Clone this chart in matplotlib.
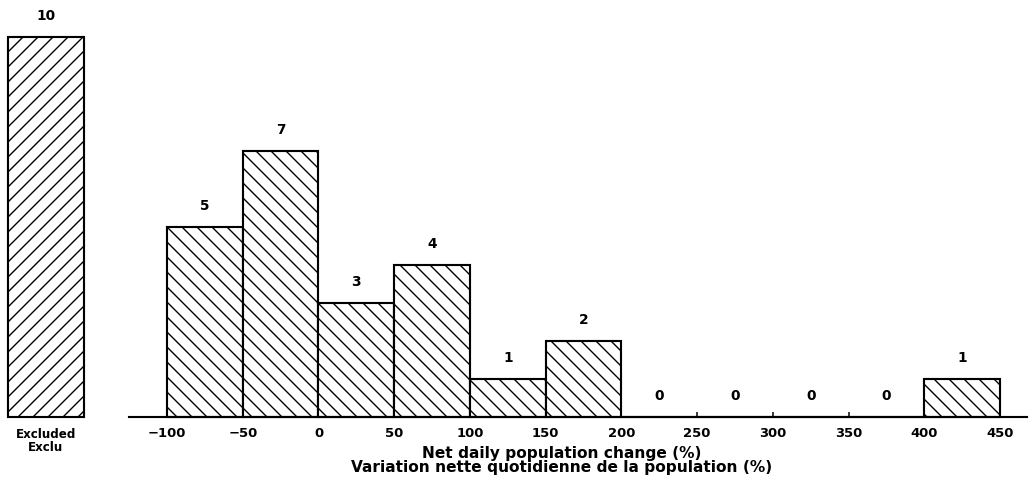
import matplotlib
matplotlib.use("Agg")
import matplotlib.pyplot as plt
import numpy as np

# Data
bin_edges = [-100, -50, 0, 50, 100, 150, 200, 250, 300, 350, 400, 450]
counts = [5, 7, 3, 4, 1, 2, 0, 0, 0, 0, 1]
excluded_count = 10
excluded_label = "Excluded\nExclu"
tick_values = [-100, -50, 0, 50, 100, 150, 200, 250, 300, 350, 400, 450]
xlabel_lines = ["Net daily population change (%)",
                "Variation nette quotidienne de la population (%)"]

DPI = 90
plt.rcParams['hatch.linewidth'] = 1.1
plt.rcParams['font.family'] = ['DejaVu Sans']
plt.rcParams['font.weight'] = 'bold'

fig = plt.figure(figsize=(1031 / DPI, 485 / DPI), dpi=DPI)
ax = fig.add_axes([0, 0, 1, 1])

lefts = np.array(bin_edges[:-1])
widths = np.diff(bin_edges)
ax.bar(lefts, counts, width=widths, align='edge', facecolor='white',
       edgecolor='black', linewidth=1.7, hatch='\\\\', zorder=2)

# Excluded bar, placed left of the axis range
ex_left = -205
ax.bar([ex_left], [excluded_count], width=50, align='edge', facecolor='white',
       edgecolor='black', linewidth=1.7, hatch='//', zorder=2)

fs = 11
for l, w, c in zip(lefts, widths, counts):
    ax.text(l + w / 2, c + 0.36, str(c), ha='center', va='bottom',
            fontsize=fs, fontweight='bold')
ax.text(ex_left + 25, excluded_count + 0.36, str(excluded_count), ha='center',
        va='bottom', fontsize=fs, fontweight='bold')
ax.text(ex_left + 25, -0.3, excluded_label, ha='center', va='top',
        fontsize=9.5, fontweight='bold', linespacing=1.0)

ax.set_xlim(-210.3, 470.5)
ax.set_ylim(-1.79, 10.97)

for s in ['top', 'right', 'left']:
    ax.spines[s].set_visible(False)
ax.spines['bottom'].set_position(('data', 0))
ax.spines['bottom'].set_bounds(-125, 468)
ax.spines['bottom'].set_linewidth(1.7)
ax.spines['bottom'].set_zorder(3)

ax.set_yticks([])
ax.set_xticks(tick_values)
ax.set_xticklabels([str(t).replace('-', '\u2212') for t in tick_values],
                   fontsize=10.5, fontweight='bold')
ax.tick_params(axis='x', direction='in', length=4, width=1.2, pad=8)

ax.text(160.8, -0.76, "\n".join(xlabel_lines), ha='center', va='top',
        fontsize=12.3, fontweight='bold', linespacing=0.9)

fig.savefig("out.png", dpi=DPI)
